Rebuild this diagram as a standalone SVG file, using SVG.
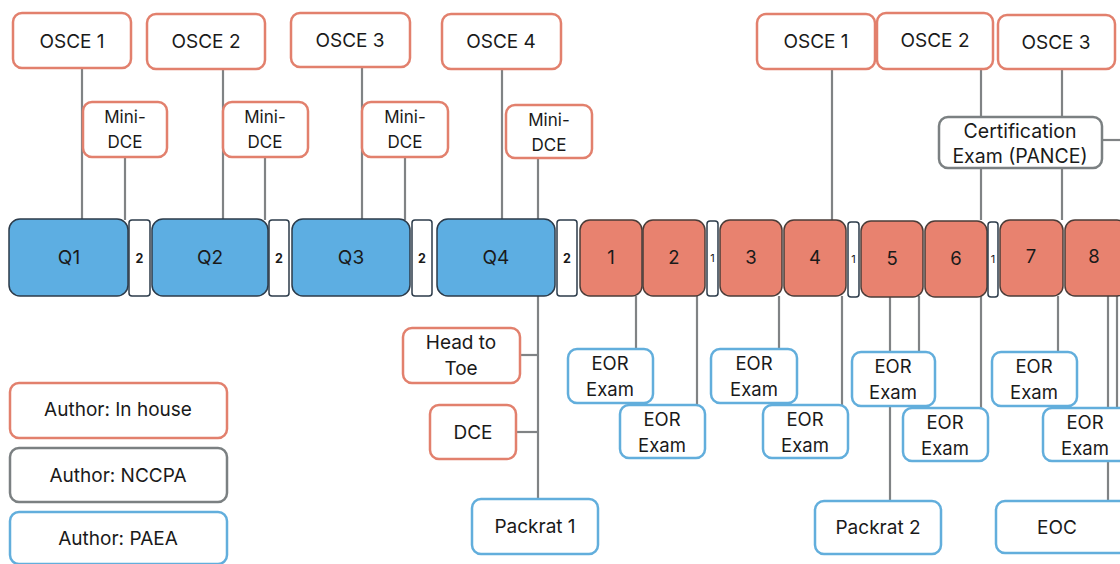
<svg xmlns="http://www.w3.org/2000/svg" width="1120" height="564" viewBox="0 0 1120 564">
<style>
text{font-family:Inter,"Liberation Sans",Arial,sans-serif;fill:#1a1a1a;text-anchor:middle;dominant-baseline:central}
.t{font-size:19px}
.m{font-size:17px}
.s{font-size:18.5px}
.l{font-size:19px}
.c{font-size:19.5px}
.g{font-size:12.5px;font-weight:bold}
.g1{font-size:11px}
.house{fill:#fff;stroke:#E2806D;stroke-width:2.5}
.nccpa{fill:#fff;stroke:#7B8082;stroke-width:2.5}
.paea{fill:#fff;stroke:#62AEDC;stroke-width:2.5}
.q{fill:#5DAEE2;stroke:#2C3B4A;stroke-width:1.5}
.r{fill:#E8826F;stroke:#4A3C38;stroke-width:1.5}
.gap{fill:#fff;stroke:#2C3B4A;stroke-width:1.5}
#connectors line{stroke:#808385;stroke-width:2.2}
</style>
<rect width="1120" height="564" fill="#fff"/>
<g id="connectors">
<line x1="82" y1="68" x2="82" y2="220"/>
<line x1="125" y1="157" x2="125" y2="220"/>
<line x1="223" y1="68" x2="223" y2="220"/>
<line x1="265" y1="157" x2="265" y2="220"/>
<line x1="362" y1="67" x2="362" y2="220"/>
<line x1="405" y1="157" x2="405" y2="220"/>
<line x1="502" y1="68" x2="502" y2="220"/>
<line x1="538" y1="158" x2="538" y2="220"/>
<line x1="832" y1="68" x2="832" y2="220"/>
<line x1="981" y1="68" x2="981" y2="220"/>
<line x1="1062" y1="68" x2="1062" y2="220"/>
<line x1="1102" y1="140" x2="1120" y2="140"/>
<line x1="538" y1="296" x2="538" y2="500"/>
<line x1="520" y1="355" x2="538" y2="355"/>
<line x1="516" y1="432" x2="538" y2="432"/>
<line x1="636" y1="296" x2="636" y2="349"/>
<line x1="697" y1="296" x2="697" y2="405"/>
<line x1="779" y1="296" x2="779" y2="349"/>
<line x1="842" y1="296" x2="842" y2="405"/>
<line x1="890" y1="296" x2="890" y2="501"/>
<line x1="919" y1="296" x2="919" y2="352"/>
<line x1="981" y1="296" x2="981" y2="408"/>
<line x1="1058" y1="296" x2="1058" y2="352"/>
<line x1="1108" y1="296" x2="1108" y2="501"/>
<line x1="1117" y1="296" x2="1117" y2="408"/>
</g>
<g id="osce1a"><rect class="house" x="13" y="13" width="118" height="55" rx="9"/><text class="t" x="72" y="41">OSCE 1</text></g>
<g id="osce2a"><rect class="house" x="147" y="14" width="118" height="55" rx="9"/><text class="t" x="206" y="41">OSCE 2</text></g>
<g id="osce3a"><rect class="house" x="291" y="13" width="119" height="54" rx="9"/><text class="t" x="350" y="40">OSCE 3</text></g>
<g id="osce4a"><rect class="house" x="442" y="14" width="119" height="55" rx="9"/><text class="t" x="501" y="41">OSCE 4</text></g>
<g id="mini1"><rect class="house" x="83" y="102" width="84" height="55" rx="9"/><text class="m" x="125" y="117">Mini-</text><text class="m" x="125" y="142">DCE</text></g>
<g id="mini2"><rect class="house" x="223" y="102" width="85" height="55" rx="9"/><text class="m" x="265" y="117">Mini-</text><text class="m" x="265" y="142">DCE</text></g>
<g id="mini3"><rect class="house" x="362" y="102" width="86" height="55" rx="9"/><text class="m" x="405" y="117">Mini-</text><text class="m" x="405" y="142">DCE</text></g>
<g id="mini4"><rect class="house" x="506" y="105" width="86" height="53" rx="9"/><text class="m" x="549" y="120">Mini-</text><text class="m" x="549" y="145">DCE</text></g>
<g id="osce1b"><rect class="house" x="757" y="14" width="118" height="55" rx="9"/><text class="t" x="816" y="41">OSCE 1</text></g>
<g id="osce2b"><rect class="house" x="877" y="13" width="116" height="56" rx="9"/><text class="t" x="935" y="40">OSCE 2</text></g>
<g id="osce3b"><rect class="house" x="998" y="15" width="117" height="54" rx="9"/><text class="t" x="1056" y="42">OSCE 3</text></g>
<g id="pance"><rect class="nccpa" x="939" y="117" width="163" height="51" rx="9"/><text class="c" x="1020" y="131">Certification</text><text class="c" x="1020" y="156">Exam (PANCE)</text></g>
<g id="bar">
<rect class="q" x="9" y="219" width="119" height="77" rx="11"/><text class="t" x="69" y="257">Q1</text>
<rect class="gap" x="129" y="220" width="21" height="76" rx="3"/><text class="g" x="139.5" y="258">2</text>
<rect class="q" x="152" y="219" width="116" height="77" rx="11"/><text class="t" x="210" y="257">Q2</text>
<rect class="gap" x="269" y="220" width="20" height="76" rx="3"/><text class="g" x="279" y="258">2</text>
<rect class="q" x="292" y="219" width="118" height="77" rx="11"/><text class="t" x="351" y="257">Q3</text>
<rect class="gap" x="412" y="220" width="20" height="76" rx="3"/><text class="g" x="422" y="258">2</text>
<rect class="q" x="437" y="219" width="118" height="77" rx="11"/><text class="t" x="496" y="257">Q4</text>
<rect class="gap" x="557" y="220" width="20" height="76" rx="3"/><text class="g" x="567" y="258">2</text>
<rect class="r" x="580" y="220" width="62" height="76" rx="10"/><text class="s" x="611" y="257">1</text>
<rect class="r" x="643" y="220" width="62" height="76" rx="10"/><text class="s" x="674" y="257">2</text>
<rect class="gap" x="707" y="221" width="11" height="75" rx="3"/><text class="g1" x="712.5" y="258">1</text>
<rect class="r" x="720" y="220" width="62" height="76" rx="10"/><text class="s" x="751" y="257">3</text>
<rect class="r" x="784" y="220" width="62" height="76" rx="10"/><text class="s" x="815" y="257">4</text>
<rect class="gap" x="848" y="222" width="11" height="75" rx="3"/><text class="g1" x="853.5" y="259">1</text>
<rect class="r" x="861" y="221" width="62" height="76" rx="10"/><text class="s" x="892" y="258">5</text>
<rect class="r" x="925" y="221" width="62" height="76" rx="10"/><text class="s" x="956" y="258">6</text>
<rect class="gap" x="988" y="222" width="10" height="75" rx="3"/><text class="g1" x="993" y="259">1</text>
<rect class="r" x="1000" y="220" width="63" height="76" rx="10"/><text class="s" x="1031" y="256">7</text>
<rect class="r" x="1065" y="220" width="62" height="76" rx="10"/><text class="s" x="1094" y="256">8</text>
</g>
<g id="headtoe"><rect class="house" x="403" y="328" width="117" height="55" rx="9"/><text class="l" x="461" y="342">Head to</text><text class="l" x="461" y="368">Toe</text></g>
<g id="dce"><rect class="house" x="430" y="405" width="86" height="54" rx="9"/><text class="l" x="473" y="432">DCE</text></g>
<g id="packrat1"><rect class="paea" x="472" y="499" width="126" height="55" rx="9"/><text class="l" x="535" y="526">Packrat 1</text></g>
<g id="eor1"><rect class="paea" x="568" y="349" width="85" height="54" rx="9"/><text class="s" x="610" y="363">EOR</text><text class="s" x="610" y="389">Exam</text></g>
<g id="eor2"><rect class="paea" x="620" y="405" width="85" height="53" rx="9"/><text class="s" x="662" y="419">EOR</text><text class="s" x="662" y="445">Exam</text></g>
<g id="eor3"><rect class="paea" x="711" y="349" width="86" height="54" rx="9"/><text class="s" x="754" y="363">EOR</text><text class="s" x="754" y="389">Exam</text></g>
<g id="eor4"><rect class="paea" x="763" y="405" width="85" height="53" rx="9"/><text class="s" x="805" y="419">EOR</text><text class="s" x="805" y="445">Exam</text></g>
<g id="eor5"><rect class="paea" x="852" y="352" width="83" height="54" rx="9"/><text class="s" x="893" y="366">EOR</text><text class="s" x="893" y="392">Exam</text></g>
<g id="eor6"><rect class="paea" x="903" y="408" width="85" height="53" rx="9"/><text class="s" x="945" y="422">EOR</text><text class="s" x="945" y="448">Exam</text></g>
<g id="eor7"><rect class="paea" x="992" y="352" width="85" height="54" rx="9"/><text class="s" x="1034" y="366">EOR</text><text class="s" x="1034" y="392">Exam</text></g>
<g id="eor8"><rect class="paea" x="1043" y="408" width="90" height="53" rx="9"/><text class="s" x="1085" y="422">EOR</text><text class="s" x="1085" y="448">Exam</text></g>
<g id="packrat2"><rect class="paea" x="815" y="501" width="126" height="53" rx="9"/><text class="l" x="878" y="527">Packrat 2</text></g>
<g id="eoc"><rect class="paea" x="996" y="501" width="134" height="52" rx="9"/><text class="l" x="1057" y="527">EOC</text></g>
<g id="legend-house"><rect class="house" x="10" y="383" width="217" height="55" rx="9"/><text class="l" x="118" y="409">Author: In house</text></g>
<g id="legend-nccpa"><rect class="nccpa" x="10" y="448" width="217" height="54" rx="9"/><text class="l" x="118" y="475">Author: NCCPA</text></g>
<g id="legend-paea"><rect class="paea" x="10" y="512" width="217" height="52" rx="9"/><text class="l" x="118" y="538">Author: PAEA</text></g>
</svg>
